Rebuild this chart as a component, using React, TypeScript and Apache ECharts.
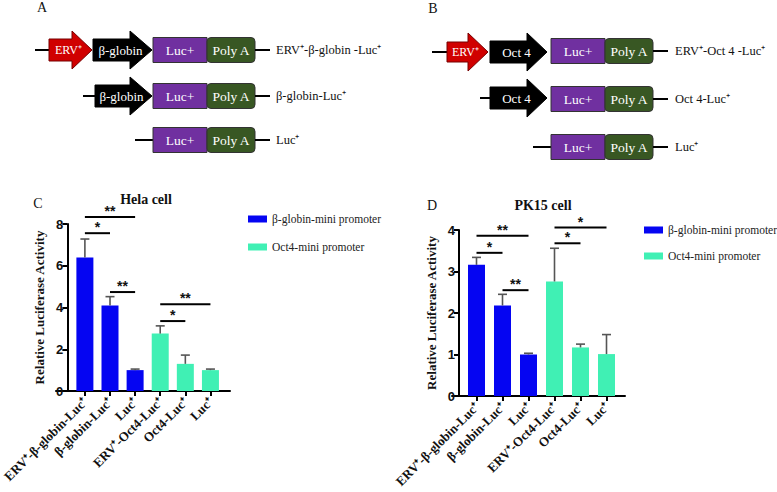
import React, { useEffect, useRef } from 'react';
import * as echarts from 'echarts';

const SERIF = "'Liberation Serif','Times New Roman',Times,serif";
const SANS = "'Liberation Sans',Arial,Helvetica,sans-serif";

const categories = ['ERV⁺-β-globin-Luc⁺', 'β-globin-Luc⁺', 'Luc⁺', 'ERV⁺-Oct4-Luc⁺', 'Oct4-Luc⁺', 'Luc⁺'];
const seriesNames = ['β-globin-mini promoter', 'Oct4-mini promoter'];

const helaBeta = [6.4, 4.1, 1.0];
const helaBetaErr = [0.88, 0.42, 0.05];
const helaOct = [2.75, 1.3, 1.0];
const helaOctErr = [0.37, 0.42, 0.05];

const pkBeta = [3.16, 2.18, 1.0];
const pkBetaErr = [0.18, 0.27, 0.03];
const pkOct = [2.76, 1.17, 1.01];
const pkOctErr = [0.8, 0.08, 0.47];

const helaPairs = [[0, 2], [0, 1], [1, 2], [3, 5], [3, 4]];
const helaPairY = [8.33, 7.56, 4.74, 4.16, 3.35];
const helaStars = ['**', '*', '**', '**', '*'];

const pkPairs = [[0, 2], [0, 1], [1, 2], [3, 5], [3, 4]];
const pkPairY = [3.86, 3.45, 2.55, 4.06, 3.68];
const pkStars = ['**', '*', '**', '*', '*'];

const BLUE = '#0505F2';
const GREEN = '#40F0B4';
const ERR = '#555555';

function line(x1: number, y1: number, x2: number, y2: number) {
  return { type: 'line', shape: { x1, y1, x2, y2 }, style: { stroke: '#000', lineWidth: 2 } };
}
function txt(text: string, x: number, y: number, size: number, fill: string, align = 'center', weight = 'normal') {
  return {
    type: 'text', x, y,
    style: {
      text, fill, font: `${weight} ${size}px ${SERIF}`,
      align, verticalAlign: 'middle', textAlign: align, textVerticalAlign: 'middle',
    },
  };
}
function arrow(x0: number, x1: number, x2: number, yc: number, bh: number, hh: number, fill: string, stroke: string, label: string, size: number) {
  return [
    {
      type: 'polygon',
      shape: { points: [[x0, yc - bh], [x1, yc - bh], [x1, yc - hh], [x2, yc], [x1, yc + hh], [x1, yc + bh], [x0, yc + bh]] },
      style: { fill, stroke, lineWidth: 1 },
    },
    txt(label, (x0 + x2) / 2 - 2, yc, size, '#fff'),
  ];
}
function box(x: number, yc: number, w: number, h: number, fill: string, label: string, r: number) {
  return [
    { type: 'rect', shape: { x, y: yc - h / 2, width: w, height: h, r }, style: { fill, stroke: '#333', lineWidth: 1 } },
    txt(label, x + w / 2, yc, 13.5, '#fff'),
  ];
}
function cassette(yc: number, lucX: number, lineEnd: number, labelX: number, label: string) {
  return [
    ...box(lucX, yc, 54, 25, '#7030A0', 'Luc+', 0),
    ...box(lucX + 54, yc, 48, 25, '#385723', 'Poly A', 4),
    line(lucX + 102, yc, lineEnd, yc),
    txt(label, labelX, yc, 12.5, '#111', 'left'),
  ];
}

function diagram() {
  const RED = '#D00000';
  const els: any[] = [];
  // Panel A
  els.push(txt('A', 42, 7, 14, '#111'));
  els.push(line(35, 50, 50, 50));
  els.push(...arrow(49, 72, 92, 50, 11, 19, RED, '#700', 'ERV⁺', 12));
  els.push(...arrow(93, 130, 152, 50, 11, 19, '#000', '#000', 'β-globin', 13));
  els.push(...cassette(50, 153, 270, 276, 'ERV⁺-β-globin -Luc⁺'));
  els.push(line(83, 96, 96, 96));
  els.push(...arrow(95, 130, 152, 96, 11, 19, '#000', '#000', 'β-globin', 13));
  els.push(...cassette(96, 153, 270, 276, 'β-globin-Luc⁺'));
  els.push(line(135, 140, 153, 140));
  els.push(...cassette(140, 153, 270, 276, 'Luc⁺'));

  // Panel B
  els.push(txt('B', 433, 8, 14, '#111'));
  els.push(line(432, 52, 448, 52));
  els.push(...arrow(447, 468, 488, 52, 10, 19, RED, '#700', 'ERV⁺', 12));
  els.push(...arrow(490, 527, 547, 52, 11, 19, '#000', '#000', 'Oct 4', 13));
  els.push(...cassette(51, 551, 668, 675, 'ERV⁺-Oct 4 -Luc⁺'));
  els.push(line(480, 98, 491, 98));
  els.push(...arrow(490, 527, 547, 98, 11, 19, '#000', '#000', 'Oct 4', 13));
  els.push(...cassette(99, 551, 668, 675, 'Oct 4-Luc⁺'));
  els.push(line(533, 147, 551, 147));
  els.push(...cassette(147, 551, 668, 675, 'Luc⁺'));

  // Panel C / D letters and titles
  els.push(txt('C', 38, 203, 14, '#111'));
  els.push(txt('Hela cell', 146, 199, 14, '#111', 'center', 'bold'));
  els.push(txt('D', 432, 205, 14, '#111'));
  els.push(txt('PK15 cell', 543, 205, 14, '#111', 'center', 'bold'));
  return els;
}

function errSeries(xi: number, yi: number, a: number[], ae: number[], b: number[], be: number[]) {
  const data = [
    ...a.map((v, i) => [i, v, ae[i]]),
    ...b.map((v, i) => [i + 3, v, be[i]]),
  ];
  return {
    type: 'custom', xAxisIndex: xi, yAxisIndex: yi, clip: false, z: 5,
    encode: { x: 0, y: 1 },
    data,
    renderItem: (params: any, api: any) => {
      const i = api.value(0), v = api.value(1), e = api.value(2);
      const base = api.coord([i, v]);
      const top = api.coord([i, v + e]);
      const st = { stroke: ERR, lineWidth: 1.6 };
      return {
        type: 'group',
        children: [
          { type: 'line', shape: { x1: base[0], y1: base[1], x2: top[0], y2: top[1] }, style: st },
          { type: 'line', shape: { x1: top[0] - 4.5, y1: top[1], x2: top[0] + 4.5, y2: top[1] }, style: st },
        ],
      };
    },
  };
}

function bracketSeries(xi: number, yi: number, pairs: number[][], ys: number[], stars: string[]) {
  return {
    type: 'custom', xAxisIndex: xi, yAxisIndex: yi, clip: false, z: 6,
    encode: { x: [0, 1], y: 2 },
    data: pairs.map((p, k) => [p[0], p[1], ys[k]]),
    renderItem: (params: any, api: any) => {
      const y = api.value(2);
      const p1 = api.coord([api.value(0), y]);
      const p2 = api.coord([api.value(1), y]);
      return {
        type: 'group',
        children: [
          { type: 'line', shape: { x1: p1[0], y1: p1[1], x2: p2[0], y2: p2[1] }, style: { stroke: '#000', lineWidth: 2 } },
          {
            type: 'text',
            style: {
              text: stars[params.dataIndex], x: (p1[0] + p2[0]) / 2, y: p1[1] + 1,
              font: `bold 14px ${SANS}`, fill: '#111',
              align: 'center', verticalAlign: 'bottom', textAlign: 'center', textVerticalAlign: 'bottom',
            },
          },
        ],
      };
    },
  };
}

function mainX(gi: number) {
  return {
    gridIndex: gi, type: 'category', data: categories,
    axisLine: { show: false },
    axisTick: { show: true, alignWithLabel: true, length: 5, lineStyle: { color: '#000', width: 2 } },
    axisLabel: { rotate: 45, interval: 0, margin: 9, fontFamily: SERIF, fontWeight: 'bold', fontSize: 13, color: '#111' },
    splitLine: { show: false },
  };
}
function mainY(gi: number, max: number, interval: number, offset: number) {
  return {
    gridIndex: gi, type: 'value', min: 0, max, interval, offset,
    axisLine: { show: true, lineStyle: { color: '#000', width: 2 } },
    axisTick: { show: true, length: 5, lineStyle: { color: '#000', width: 2 } },
    axisLabel: { fontFamily: SANS, fontWeight: 'bold', fontSize: 13, color: '#111', margin: 4 },
    splitLine: { show: false },
    name: 'Relative Luciferase Activity', nameLocation: 'middle', nameGap: 21,
    nameTextStyle: { fontFamily: SERIF, fontWeight: 'bold', fontSize: 13, color: '#111' },
  };
}
function baseX(gi: number) {
  return {
    gridIndex: gi, type: 'value', min: 0, max: 1,
    axisLine: { show: true, lineStyle: { color: '#000', width: 2 } },
    axisTick: { show: false }, axisLabel: { show: false }, splitLine: { show: false },
  };
}
function baseY(gi: number) {
  return { gridIndex: gi, type: 'value', min: 0, max: 1, show: false };
}

function bars(xi: number, yi: number, a: number[], b: number[]) {
  return [
    {
      name: seriesNames[0], type: 'bar', xAxisIndex: xi, yAxisIndex: yi, stack: 's' + xi, barWidth: 17,
      itemStyle: { color: BLUE }, data: [...a, '-', '-', '-'],
    },
    {
      name: seriesNames[1], type: 'bar', xAxisIndex: xi, yAxisIndex: yi, stack: 's' + xi, barWidth: 17,
      itemStyle: { color: GREEN }, data: ['-', '-', '-', ...b],
    },
  ];
}

function legend(left: number, top: number, gap: number) {
  return {
    data: seriesNames, left, top, orient: 'vertical', icon: 'rect',
    itemWidth: 19, itemHeight: 7, itemGap: gap, itemTextGap: 9, selectedMode: false,
    textStyle: { fontFamily: SERIF, fontSize: 11.5, color: '#222', lineHeight: 14 },
  };
}

export default function App() {
  const ref = useRef<HTMLDivElement>(null);
  useEffect(() => {
    document.body.style.margin = '0';
    const chart = echarts.init(ref.current!, null, { renderer: 'svg' });
    chart.setOption({
      animation: false,
      backgroundColor: '#fff',
      grid: [
        { left: 67, top: 224, width: 156, height: 167 },
        { left: 463.5, top: 230, width: 156, height: 166 },
        { left: 56, top: 224, width: 174, height: 167 },
        { left: 452, top: 230, width: 173, height: 166 },
      ],
      xAxis: [mainX(0), mainX(1), baseX(2), baseX(3)],
      yAxis: [mainY(0, 8, 2, 5), mainY(1, 4, 1, 4.5), baseY(2), baseY(3)],
      legend: [legend(243, 207, 14), legend(639, 218, 12)],
      series: [
        ...bars(0, 0, helaBeta, helaOct),
        errSeries(0, 0, helaBeta, helaBetaErr, helaOct, helaOctErr),
        bracketSeries(0, 0, helaPairs, helaPairY, helaStars),
        ...bars(1, 1, pkBeta, pkOct),
        errSeries(1, 1, pkBeta, pkBetaErr, pkOct, pkOctErr),
        bracketSeries(1, 1, pkPairs, pkPairY, pkStars),
      ],
      graphic: { elements: diagram() },
    });
    return () => chart.dispose();
  }, []);
  return <div ref={ref} style={{ width: 777, height: 492 }} />;
}
